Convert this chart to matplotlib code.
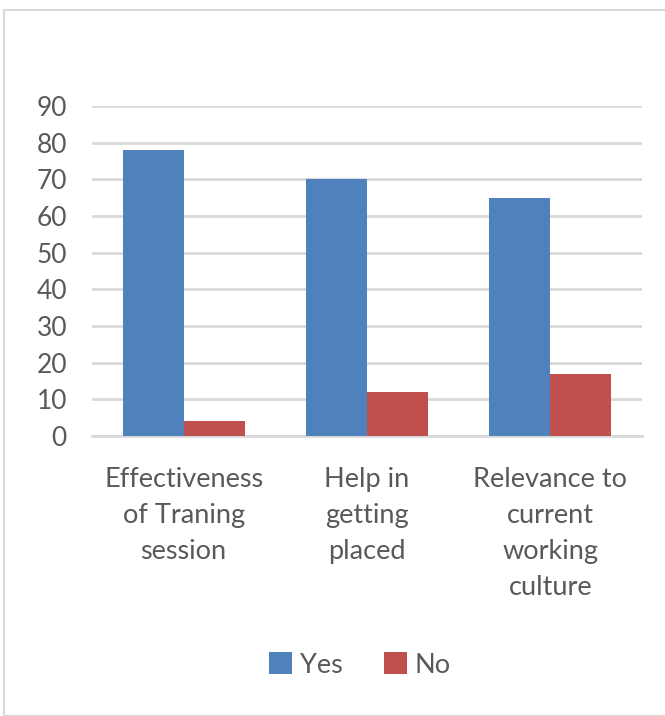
import matplotlib
matplotlib.use("Agg")
import matplotlib.pyplot as plt
import numpy as np
from matplotlib.patches import Rectangle

categories = ["Effectiveness\nof Traning\nsession", "Help in\ngetting\nplaced",
              "Relevance to\ncurrent\nworking\nculture"]
yes_values = [78, 70, 65]
no_values = [4, 12, 17]
series_names = ["Yes", "No"]
yticks = [0, 10, 20, 30, 40, 50, 60, 70, 80, 90]

plt.rcParams['font.family'] = ['Lato', 'DejaVu Sans']
text_color = "#595959"

fig = plt.figure(figsize=(6.65, 7.16), dpi=100)
fig.patches.append(Rectangle((4/665, 0), 1, 1 - 10/716, transform=fig.transFigure,
                             fill=False, edgecolor="#D9D9D9", linewidth=1.5))
ax = fig.add_axes([92/665, 1 - 436/716, 550/665, 330/716])

x = np.arange(len(categories))
w = 1/3
ax.bar(x - w/2, yes_values, width=w, color="#4F81BD", label=series_names[0], zorder=3)
ax.bar(x + w/2, no_values, width=w, color="#C0504D", label=series_names[1], zorder=3)

ax.set_xlim(-0.5, 2.5)
ax.set_ylim(0, 90)
ax.set_yticks(yticks)
ax.yaxis.grid(True, color="#D9D9D9", linewidth=2, zorder=0)
ax.set_axisbelow(True)
for s in ["top", "right", "left"]:
    ax.spines[s].set_visible(False)
ax.spines["bottom"].set_color("#D9D9D9")
ax.spines["bottom"].set_linewidth(2)
ax.tick_params(axis="y", length=0, labelsize=19, colors=text_color, pad=18)
ax.tick_params(axis="x", length=0, labelsize=19.5, colors=text_color, pad=22)
ax.set_xticks(x)
ax.set_xticklabels(categories, linespacing=1.55)

leg = fig.legend(loc="center", bbox_to_anchor=(360/665, 1 - 665/716), ncol=2, frameon=False,
                 fontsize=19.5, handlelength=0.85, handleheight=0.85, handletextpad=0.3,
                 columnspacing=1.5, labelcolor=text_color)

fig.savefig("out.png", dpi=100, facecolor="white")
